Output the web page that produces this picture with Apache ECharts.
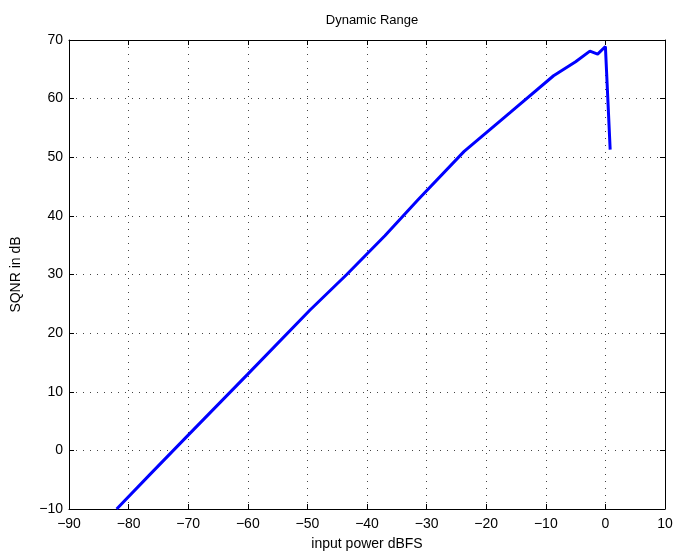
<!DOCTYPE html>
<html>
<head>
<meta charset="utf-8">
<script src="https://cdn.jsdelivr.net/npm/echarts@6/dist/echarts.min.js"></script>
<style>html,body{margin:0;padding:0;background:#fff;}#c{width:675px;height:553px;}</style>
</head>
<body>
<div id="c"></div>
<script>
const inputPower = [-82, -76.4, -70, -60, -49.6, -43.4, -37, -31.4, -23.7, -16, -8.7, -5, -2.6, -1.3, 0, 0.8];
const sqnr = [-10, -4.1, 2.6, 13.0, 23.9, 30.0, 36.6, 42.8, 51.0, 57.6, 63.9, 66.3, 68.1, 67.6, 68.9, 51.3];
const xTicks = [-90, 10, 10];
const yTicks = [-10, 70, 10];

const data = inputPower.map((x, i) => [x, sqnr[i]]);
const fmt = v => String(v).replace('-', '\u2212');
const font = 'Liberation Sans, Arial, Helvetica, sans-serif';

const chart = echarts.init(document.getElementById('c'), null, {renderer: 'canvas'});
const baseX = {
  type: 'value', min: xTicks[0], max: xTicks[1], interval: xTicks[2],
  axisLine: {show: true, onZero: false, lineStyle: {color: '#000', width: 1}},
  axisTick: {show: true, inside: true, length: 5, lineStyle: {color: '#000'}},
};
const baseY = {
  type: 'value', min: yTicks[0], max: yTicks[1], interval: yTicks[2],
  axisLine: {show: true, onZero: false, lineStyle: {color: '#000', width: 1}},
  axisTick: {show: true, inside: true, length: 5, lineStyle: {color: '#000'}},
};
chart.setOption({
  animation: false,
  backgroundColor: '#fff',
  title: {
    text: 'Dynamic Range', left: 367, top: 9, textAlign: 'center',
    textStyle: {fontFamily: font, fontSize: 13, fontWeight: 'normal', color: '#000'}
  },
  grid: {left: 69, right: 10, top: 40, bottom: 44, containLabel: false, outerBoundsMode: 'none'},
  xAxis: [
    Object.assign({}, baseX, {
      position: 'bottom',
      name: 'input power dBFS', nameLocation: 'middle', nameGap: 28,
      nameTextStyle: {fontFamily: font, fontSize: 14, color: '#000'},
      axisLabel: {formatter: fmt, fontFamily: font, fontSize: 14, color: '#000', margin: 8},
      splitLine: {show: true, lineStyle: {color: '#444', type: [1, 6], width: 1}}
    }),
    Object.assign({}, baseX, {position: 'top', axisLabel: {show: false}, splitLine: {show: false}})
  ],
  yAxis: [
    Object.assign({}, baseY, {
      position: 'left',
      name: 'SQNR in dB', nameLocation: 'middle', nameGap: 46, nameRotate: 90,
      nameTextStyle: {fontFamily: font, fontSize: 14, color: '#000'},
      axisLabel: {formatter: fmt, fontFamily: font, fontSize: 14, color: '#000', margin: 6},
      splitLine: {show: true, lineStyle: {color: '#444', type: [1, 6], width: 1}}
    }),
    Object.assign({}, baseY, {position: 'right', axisLabel: {show: false}, splitLine: {show: false}})
  ],
  series: [{
    type: 'line', data: data, xAxisIndex: 0, yAxisIndex: 0,
    showSymbol: false, symbol: 'none',
    lineStyle: {color: '#0000ff', width: 3},
    itemStyle: {color: '#0000ff'}
  }]
});
</script>
</body>
</html>
